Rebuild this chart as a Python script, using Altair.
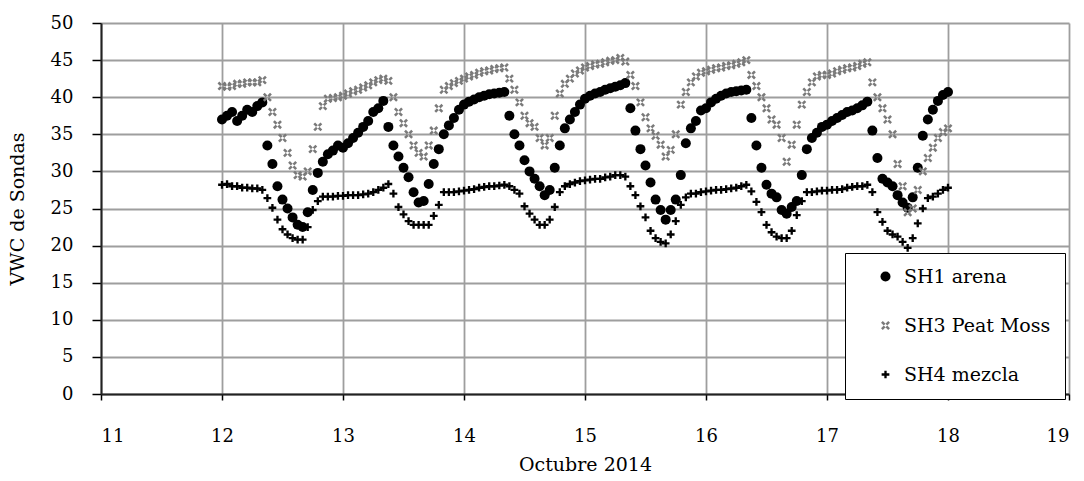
import altair as alt
import pandas as pd

SERIES = ["SH1 arena", "SH3 Peat Moss", "SH4 mezcla"]
START_DAY = 12  # hourly readings from 12 Oct 00:00 to 18 Oct 00:00

sh1 = [
    37.0, 37.5, 38.0, 36.8, 37.5, 38.3, 38.0, 38.8, 39.3, 33.5, 31.0, 28.0, 26.2, 25.0, 23.8, 22.8, 22.5, 24.5, 27.5, 29.8, 31.3, 32.3, 32.8, 33.5,
    33.2, 33.8, 34.5, 35.2, 36.0, 36.8, 38.0, 38.5, 39.5, 36.0, 33.5, 32.0, 30.5, 29.2, 27.2, 25.8, 26.0, 28.3, 31.0, 33.0, 35.0, 36.2, 37.2, 38.3,
    39.0, 39.4, 39.7, 40.0, 40.2, 40.4, 40.5, 40.6, 40.7, 37.5, 35.0, 33.5, 31.5, 30.0, 29.0, 28.0, 26.8, 27.5, 30.5, 33.5, 35.8, 37.0, 38.0, 39.0,
    39.8, 40.2, 40.5, 40.7, 41.0, 41.2, 41.4, 41.6, 41.9, 38.5, 35.5, 33.0, 30.8, 28.5, 26.2, 24.8, 23.5, 24.8, 26.2, 29.5, 33.8, 35.8, 36.8, 38.2,
    38.5, 39.3, 39.8, 40.2, 40.5, 40.7, 40.8, 40.9, 41.0, 37.2, 33.5, 30.5, 28.2, 27.0, 26.5, 24.8, 24.3, 25.2, 26.0, 29.5, 33.0, 34.5, 35.2, 36.0,
    36.3, 36.8, 37.2, 37.6, 38.0, 38.2, 38.5, 38.9, 39.4, 35.5, 31.8, 29.0, 28.5, 28.0, 26.8, 25.8, 25.1, 26.5, 30.5, 34.8, 37.0, 38.3, 39.5, 40.3,
    40.7,
]

sh3 = [
    41.5, 41.4, 41.5, 41.8, 41.8, 42.0, 42.0, 42.0, 42.3, 40.0, 38.0, 36.3, 34.5, 32.5, 30.8, 29.5, 29.3, 30.0, 33.0, 36.0, 38.8, 39.8, 39.9, 40.0,
    40.2, 40.5, 40.8, 41.0, 41.3, 41.6, 42.0, 42.3, 42.5, 42.2, 40.0, 38.0, 36.5, 35.0, 33.5, 32.5, 32.0, 33.5, 35.5, 38.5, 41.0, 41.5, 41.9, 42.2,
    42.5, 42.8, 43.0, 43.3, 43.5, 43.6, 43.8, 43.9, 44.0, 42.5, 41.0, 39.3, 37.5, 36.5, 36.0, 34.5, 33.5, 34.5, 37.5, 40.5, 41.8, 42.5, 43.2, 43.6,
    44.0, 44.2, 44.4, 44.5, 44.7, 44.9, 45.0, 45.3, 44.8, 43.0, 41.5, 39.3, 37.3, 35.8, 34.8, 33.6, 32.0, 32.9, 35.0, 39.0, 40.7, 42.0, 42.8, 43.3,
    43.5, 43.7, 43.9, 44.0, 44.2, 44.3, 44.5, 44.7, 45.0, 43.0, 41.5, 40.0, 38.5, 37.0, 36.3, 34.5, 31.3, 33.6, 36.3, 39.0, 40.7, 42.0, 42.8, 43.0,
    43.0, 43.2, 43.5, 43.7, 43.9, 44.0, 44.2, 44.5, 44.7, 42.0, 40.0, 38.5, 37.0, 35.0, 31.0, 28.0, 24.5, 25.0, 27.5, 30.0, 31.8, 33.2, 34.5, 35.3,
    35.8,
]

sh4 = [
    28.2, 28.3, 28.0, 28.0, 27.8, 27.8, 27.7, 27.7, 27.5, 26.4, 25.1, 23.5, 22.2, 21.5, 21.0, 20.8, 20.8, 22.5, 24.8, 26.0, 26.6, 26.6, 26.6, 26.7,
    26.7, 26.8, 26.8, 26.8, 26.9, 27.0, 27.2, 27.5, 27.8, 28.3, 27.0, 25.2, 24.2, 23.3, 22.8, 22.8, 22.8, 22.8, 24.0, 25.5, 27.2, 27.2, 27.2, 27.3,
    27.4, 27.5, 27.6, 27.8, 27.9, 28.0, 28.0, 28.1, 28.2, 28.0, 27.5, 27.0, 25.3, 24.3, 23.5, 22.8, 22.8, 23.5, 25.2, 27.2, 28.0, 28.3, 28.5, 28.7,
    28.8, 28.9, 29.0, 29.0, 29.2, 29.3, 29.5, 29.5, 29.3, 28.0, 26.8, 25.3, 23.8, 22.0, 21.0, 20.5, 20.3, 21.5, 23.3, 25.5, 26.5, 27.0, 27.0, 27.2,
    27.3, 27.4, 27.5, 27.5, 27.6, 27.7, 27.8, 28.0, 28.2, 27.3, 25.9, 24.5, 22.8, 21.8, 21.2, 21.0, 21.0, 22.0, 24.1, 26.0, 27.2, 27.2, 27.3, 27.4,
    27.4, 27.5, 27.5, 27.6, 27.8, 27.9, 28.0, 28.0, 28.2, 27.2, 24.5, 23.2, 22.0, 21.5, 21.2, 20.5, 19.7, 21.0, 23.0, 25.0, 26.4, 26.6, 27.0, 27.5,
    27.8,
]

x_ticks = list(range(11, 20))
y_ticks = list(range(0, 55, 5))

rows = []
for name, vals in zip(SERIES, [sh1, sh3, sh4]):
    for i, v in enumerate(vals):
        rows.append({"dia": START_DAY + i / 24.0, "vwc": v, "serie": name})
df = pd.DataFrame(rows)

X_SHAPE = "M-1,-0.6L-0.6,-1L1,0.6L0.6,1Z M1,-0.6L0.6,-1L-1,0.6L-0.6,1Z"
PLUS_SHAPE = "M-1,-0.3H1V0.3H-1Z M-0.3,-1H0.3V1H-0.3Z"

FONT = "DejaVu Serif"

legend = alt.Legend(
    title=None,
    orient="none",
    legendX=744,
    legendY=230,
    padding=14,
    rowPadding=29,
    fillColor="#ffffff",
    strokeColor="#000000",
    labelFont=FONT,
    labelFontSize=19,
    labelColor="#000000",
    symbolOffset=17,
    labelOffset=9,
    labelExpr="datum.label + '\u00a0\u00a0\u00a0'",
)

chart = alt.Chart(df).mark_point(filled=True, opacity=1, strokeWidth=0).encode(
    x=alt.X("dia:Q", title="Octubre 2014",
            scale=alt.Scale(domain=[11, 19], nice=False, zero=False),
            axis=alt.Axis(values=x_ticks, format="d", tickSize=6, labelPadding=27,
                          titlePadding=10)),
    y=alt.Y("vwc:Q", title="VWC de Sondas",
            scale=alt.Scale(domain=[0, 50], nice=False),
            axis=alt.Axis(values=y_ticks, format="d", tickSize=9, labelPadding=19,
                          titlePadding=23)),
    color=alt.Color("serie:N", legend=legend,
                    scale=alt.Scale(domain=SERIES, range=["#000000", "#7a7a7a", "#000000"])),
    shape=alt.Shape("serie:N", legend=legend,
                    scale=alt.Scale(domain=SERIES, range=["circle", X_SHAPE, PLUS_SHAPE])),
    size=alt.Size("serie:N", legend=legend,
                  scale=alt.Scale(domain=SERIES, range=[100, 60, 42])),
    order=alt.Order("serie:N", sort="ascending"),
).properties(
    width=968,
    height=371,
    autosize=alt.AutoSizeParams(type="none"),
    padding={"left": 101, "top": 23, "right": 15, "bottom": 87},
).configure_view(
    strokeWidth=0
).configure_axis(
    labelFont=FONT,
    titleFont=FONT,
    labelFontSize=18,
    titleFontSize=19,
    titleFontWeight="normal",
    labelColor="#000000",
    titleColor="#000000",
    gridColor="#9e9e9e",
    gridWidth=1.8,
    tickColor="#000000",
    tickWidth=1.5,
    domainColor="#222222",
    domainWidth=2,
)

chart.save("out.html", embed_options={"renderer": "svg", "actions": False})
